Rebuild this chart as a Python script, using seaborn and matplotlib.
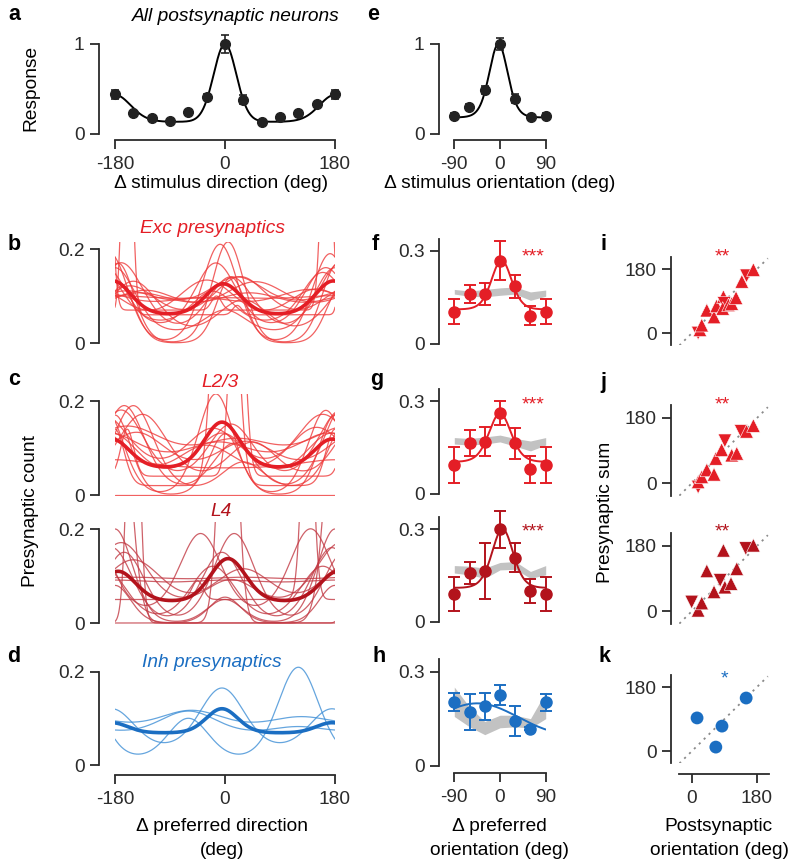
import numpy as np
import pandas as pd
import matplotlib
matplotlib.use("Agg")
import matplotlib.pyplot as plt
import seaborn as sns

# ---------------- values ----------------
# a: all postsynaptic neurons vs stimulus direction
dir_deg = [-180, -150, -120, -90, -60, -30, 0, 30, 60, 90, 120, 150, 180]
resp_dir = [0.44, 0.23, 0.18, 0.15, 0.24, 0.41, 1.00, 0.38, 0.13, 0.19, 0.23, 0.33, 0.44]
resp_dir_err = [0.05, 0.03, 0.02, 0.02, 0.03, 0.03, 0.10, 0.05, 0.02, 0.02, 0.02, 0.03, 0.05]
resp_dir_fit = [0.135, 0.865, 0.30, 9.5, 5.0, 0]      # base, a0, a180, k0, k180, mu

# e: all postsynaptic neurons vs stimulus orientation
ori_deg = [-90, -60, -30, 0, 30, 60, 90]
resp_ori = [0.20, 0.30, 0.49, 1.00, 0.39, 0.185, 0.20]
resp_ori_err = [0.03, 0.03, 0.04, 0.065, 0.05, 0.03, 0.03]
resp_ori_fit = [0.18, 0.82, 2.6, -3]                   # base, amp, kappa, mu

# b-d: fitted tuning of single postsynaptic cells, [base, a0, a180, kappa, mu]
exc_cells = [[0.0, 0.215, 0.17, 5, 5], [0.0, 0.21, 0.19, 4, -8], [0.03, 0.14, 0.13, 3, -15],
             [0.02, 0.12, 0.15, 2.5, 10], [0.05, 0.09, 0.07, 2, 25], [0.04, 0.07, 0.11, 3, -20],
             [0.09, 0.005, 0.01, 1, 0], [0.05, 0.05, 0.05, 1, 40], [0.06, 0.02, 0.6, 60, 20],
             [0.07, 0.03, 0.5, 50, -14], [0.01, 0.08, 0.12, 2, 30], [0.03, 0.10, 0.08, 1.5, -30],
             [0.02, 0.05, 0.14, 3, 0], [0.045, 0.08, 0.06, 1.2, 50], [0.0, 0.14, 0.12, 6, 10],
             [0.06, 0.03, 0.05, 1, -40], [0.08, 0.06, 0.03, 2, 20]]
exc_mean = [0.06, 0.066, 0.072, 4, -3]

l23_cells = [[0.0, 0.0, 0.0, 1, 0], [0.02, 1.0, 0.12, 15, 0], [0.04, 0.6, 0.10, 30, 20],
             [0.0, 0.215, 0.18, 4, -15], [0.03, 0.12, 0.15, 2.5, 10], [0.05, 0.09, 0.12, 2, -20],
             [0.01, 0.10, 0.18, 3, 15], [0.055, 0.0, 0.02, 1, 0], [0.02, 0.08, 0.12, 1.5, -30],
             [0.04, 0.07, 0.09, 1.5, 35], [0.0, 0.13, 0.17, 5, 0], [0.06, 0.05, 0.08, 1, 20],
             [0.03, 0.10, 0.10, 2, -5], [0.07, 0.04, 0.06, 1.5, -10], [0.01, 0.06, 0.18, 3, 30],
             [0.02, 0.09, 0.15, 2, 45]]
l23_mean = [0.057, 0.098, 0.062, 4, -5]

l4_cells = [[0.0, 0.0, 0.6, 10, 5], [0.0, 0.8, 0.0, 20, 5], [0.0, 0.19, 0.15, 3, 15],
            [0.02, 0.17, 0.18, 3, -40], [0.08, 0.01, 0.01, 1, 0], [0.07, 0.02, 0.02, 0.5, 30],
            [0.0, 0.05, 0.20, 4, 0], [0.03, 0.06, 0.14, 2, 10], [0.0, 0.12, 0.12, 2.5, -20],
            [0.02, 0.09, 0.11, 1.5, 30], [0.0, 0.055, 0.08, 5, 0], [0.0, 0.0, 0.7, 40, 30],
            [0.05, 0.5, 0.04, 40, 135], [0.0, 0.15, 0.16, 3, -5]]
l4_mean = [0.045, 0.092, 0.065, 4, 5]

inh_cells = [[0.01, 0.09, 0.20, 3, -60], [0.03, 0.135, 0.09, 2.5, -5],
             [0.06, 0.055, 0.02, 1.5, -60], [0.07, 0.045, 0.03, 1.2, -55]]
inh_mean = [0.069, 0.052, 0.022, 5, -5]

# f-h: presynaptic count vs preferred orientation difference
exc_y = [0.104, 0.161, 0.161, 0.268, 0.186, 0.091, 0.104]
exc_err = [0.04, 0.03, 0.035, 0.063, 0.037, 0.03, 0.04]
exc_shuf_lo = [0.161, 0.154, 0.152, 0.157, 0.161, 0.141, 0.154]
exc_shuf_hi = [0.176, 0.171, 0.176, 0.181, 0.184, 0.168, 0.174]
exc_fit = [0.11, 0.16, 2.2, 3]

l23_y = [0.092, 0.165, 0.169, 0.261, 0.163, 0.080, 0.092]
l23_err = [0.058, 0.042, 0.048, 0.039, 0.051, 0.043, 0.058]
l23_shuf_lo = [0.161, 0.158, 0.161, 0.168, 0.154, 0.139, 0.158]
l23_shuf_hi = [0.182, 0.179, 0.184, 0.190, 0.179, 0.171, 0.182]
l23_fit = [0.10, 0.16, 1.8, 0]

l4_y = [0.090, 0.158, 0.165, 0.299, 0.208, 0.100, 0.090]
l4_err = [0.056, 0.036, 0.09, 0.059, 0.047, 0.04, 0.056]
l4_shuf_lo = [0.158, 0.152, 0.141, 0.168, 0.170, 0.141, 0.152]
l4_shuf_hi = [0.182, 0.180, 0.174, 0.192, 0.195, 0.163, 0.182]
l4_fit = [0.107, 0.193, 2.0, 5]

inh_y = [0.204, 0.172, 0.191, 0.226, 0.143, 0.119, 0.204]
inh_err = [0.029, 0.057, 0.043, 0.032, 0.047, 0.005, 0.027]
inh_shuf_lo = [0.158, 0.125, 0.100, 0.122, 0.125, 0.121, 0.151]
inh_shuf_hi = [0.252, 0.188, 0.142, 0.162, 0.162, 0.151, 0.236]
inh_fit = [0.09, 0.11, -45, 80]                        # base, amp, mu, sd

# i-k: presynaptic sum vs postsynaptic orientation
i_post = [17, 22, 27, 41, 61, 68, 87, 89, 85, 101, 110, 122, 138, 151, 170]
i_pre = [0, 9, 22, 64, 45, 76, 102, 83, 69, 79, 83, 99, 145, 161, 178]
i_mark = ['down', 'up', 'up', 'up', 'up', 'up', 'up', 'down', 'up', 'up', 'up', 'up', 'up', 'down', 'up']

j_post = [17, 17, 27, 41, 61, 66, 82, 91, 110, 124, 136, 151, 170]
j_pre = [-11, 3, 17, 36, 24, 68, 92, 117, 77, 82, 143, 143, 159]
j_mark = ['down', 'up', 'up', 'up', 'up', 'up', 'up', 'down', 'up', 'up', 'down', 'up', 'up']

j4_post = [-1, 17, 27, 41, 61, 78, 87, 91, 108, 124, 149, 170]
j4_pre = [25, 2, 22, 111, 53, 85, 168, 66, 76, 117, 173, 182]
j4_mark = ['down', 'up', 'up', 'up', 'up', 'down', 'up', 'up', 'up', 'up', 'down', 'up']

k_post = [14, 83, 66, 150]
k_pre = [93, 70, 11, 149]

# ---------------- style ----------------
RED = '#e41e26'
RED_THIN = '#ee3a3a'
DRED = '#b3131c'
DRED_THIN = '#c23a44'
BLUE = '#1b6ec2'
BLUE_THIN = '#3f8fd6'
INK = '#2b2b2b'
GREY = '#c2c2c2'
FS = 13.8

sns.set_theme(style='ticks', rc={
    'axes.linewidth': 1.3, 'axes.edgecolor': INK,
    'xtick.major.size': 6.5, 'ytick.major.size': 6.5,
    'xtick.major.width': 1.3, 'ytick.major.width': 1.3,
    'xtick.color': INK, 'ytick.color': INK,
    'xtick.labelsize': FS, 'ytick.labelsize': FS,
    'xtick.major.pad': 5, 'ytick.major.pad': 4,
    'axes.facecolor': 'none',
})
plt.rcParams['font.family'] = ['Liberation Sans', 'DejaVu Sans']
plt.rcParams['text.color'] = 'black'

W, H = 800, 866
fig = plt.figure(figsize=(W / 100, H / 100), dpi=100)


def vm_dir(t, base, a1, a2, k1, k2, mu):
    r = np.deg2rad(t - mu)
    return base + a1 * np.exp(k1 * (np.cos(r) - 1)) + a2 * np.exp(k2 * (np.cos(r - np.pi) - 1))


def vm_ori(t, base, amp, k, mu):
    return base + amp * np.exp(k * (np.cos(np.deg2rad(2 * (t - mu))) - 1))


def gauss(t, base, amp, mu, sd):
    return base + amp * np.exp(-(t - mu) ** 2 / (2 * sd ** 2))


def px_axes(xref, xpx, yref, ypx, xlim, ylim):
    # place an axes so that data values xref/yref land on pixels xpx/ypx
    sx = (xpx[1] - xpx[0]) / (xref[1] - xref[0])
    sy = (ypx[1] - ypx[0]) / (yref[1] - yref[0])
    left = xpx[0] + (xlim[0] - xref[0]) * sx
    right = xpx[0] + (xlim[1] - xref[0]) * sx
    bottom = ypx[0] + (ylim[0] - yref[0]) * sy
    top = ypx[0] + (ylim[1] - yref[0]) * sy
    ax = fig.add_axes([left / W, 1 - bottom / H, (right - left) / W, (bottom - top) / H])
    ax.set_xlim(xlim)
    ax.set_ylim(ylim)
    return ax


def dress(ax, lout, yticks, ylabels, ybounds=None, bout=None, xticks=None, xlabels=None, xbounds=None):
    ax.spines[['top', 'right']].set_visible(False)
    ax.spines['left'].set_position(('outward', lout * 0.72))
    ax.set_yticks(yticks, ylabels)
    if ybounds:
        ax.spines['left'].set_bounds(*ybounds)
    if bout is None:
        ax.spines['bottom'].set_visible(False)
        ax.set_xticks([])
    else:
        ax.spines['bottom'].set_position(('outward', bout * 0.72))
        ax.set_xticks(xticks, xlabels)
        if xbounds:
            ax.spines['bottom'].set_bounds(*xbounds)
    ax.set_xlabel('')
    ax.set_ylabel('')


def ftext(x, y, s, **kw):
    kw.setdefault('ha', 'center')
    kw.setdefault('va', 'baseline')
    kw.setdefault('fontsize', FS)
    fig.text(x / W, 1 - y / H, s, **kw)


theta = np.linspace(-180, 180, 721)
theta_o = np.linspace(-90, 90, 361)


def cells_frame(params):
    parts = []
    for i, (b, a1, a2, k, mu) in enumerate(params):
        parts.append(pd.DataFrame({'theta': theta, 'value': vm_dir(theta, b, a1, a2, k, k, mu), 'cell': i}))
    return pd.concat(parts, ignore_index=True)


def tuning_panel(ax, cells, mean, thin, thick):
    sns.lineplot(data=cells_frame(cells), x='theta', y='value', units='cell', estimator=None,
                 color=thin, lw=0.9, alpha=0.8, sort=False, legend=False, ax=ax)
    sns.lineplot(x=theta, y=vm_dir(theta, mean[0], mean[1], mean[2], mean[3], mean[3], mean[4]),
                 color=thick, lw=2.6, ax=ax)


def ori_panel(ax, y, err, lo, hi, fit, col, model=vm_ori):
    ax.fill_between(ori_deg, lo, hi, color=GREY, lw=0, zorder=1)
    sns.lineplot(x=theta_o, y=model(theta_o, *fit), color=col, lw=1.4, ax=ax, zorder=2)
    ax.errorbar(ori_deg, y, yerr=err, fmt='o', color=col, ms=8, capsize=4, elinewidth=1.4,
                capthick=1.4, clip_on=False, zorder=3)


# ---- a ----
ax = px_axes((-180, 180), (115, 335), (0, 1), (134, 44), (-180, 180), (0, 1.12))
sns.lineplot(x=theta, y=vm_dir(theta, *resp_dir_fit), color='black', lw=1.4, ax=ax)
ax.errorbar(dir_deg, resp_dir, yerr=resp_dir_err, fmt='o', color='#222222', ms=7, capsize=3,
            elinewidth=1.2, capthick=1.2, clip_on=False, zorder=3)
dress(ax, 16, [0, 1], ['0', '1'], (0, 1), bout=6, xticks=[-180, 0, 180],
      xlabels=['-180', '0', '180'], xbounds=(-180, 180))

# ---- e ----
ax = px_axes((-90, 90), (454, 546), (0, 1), (134, 44), (-90, 90), (0, 1.12))
sns.lineplot(x=theta_o, y=vm_ori(theta_o, *resp_ori_fit), color='black', lw=1.4, ax=ax)
ax.errorbar(ori_deg, resp_ori, yerr=resp_ori_err, fmt='o', color='#222222', ms=7, capsize=3,
            elinewidth=1.2, capthick=1.2, clip_on=False, zorder=3)
dress(ax, 15, [0, 1], ['0', '1'], (0, 1), bout=6, xticks=[-90, 0, 90],
      xlabels=['-90', '0', '90'], xbounds=(-90, 90))

# ---- b, c, d ----
ylim_t = (-0.003, 0.215)
for ypx, cells, mean, thin, thick in [((343, 249), exc_cells, exc_mean, RED_THIN, RED),
                                      ((495, 401), l23_cells, l23_mean, RED_THIN, RED),
                                      ((623, 529), l4_cells, l4_mean, DRED_THIN, DRED)]:
    ax = px_axes((-180, 180), (115, 335), (0, 0.2), ypx, (-180, 180), ylim_t)
    tuning_panel(ax, cells, mean, thin, thick)
    dress(ax, 16, [0, 0.2], ['0', '0.2'], (0, 0.2))

ax = px_axes((-180, 180), (115, 335), (0, 0.2), (765, 672), (-180, 180), ylim_t)
tuning_panel(ax, inh_cells, inh_mean, BLUE_THIN, BLUE)
dress(ax, 16, [0, 0.2], ['0', '0.2'], (0, 0.2), bout=8.6, xticks=[-180, 0, 180],
      xlabels=['-180', '0', '180'], xbounds=(-180, 180))

# ---- f, g, h ----
for ypx, y, err, lo, hi, fit, col in [((344, 251), exc_y, exc_err, exc_shuf_lo, exc_shuf_hi, exc_fit, RED),
                                      ((494, 401), l23_y, l23_err, l23_shuf_lo, l23_shuf_hi, l23_fit, RED),
                                      ((622, 529), l4_y, l4_err, l4_shuf_lo, l4_shuf_hi, l4_fit, DRED)]:
    ax = px_axes((-90, 90), (454.3, 545.7), (0, 0.3), ypx, (-90, 90), (0, 0.34))
    ori_panel(ax, y, err, lo, hi, fit, col)
    dress(ax, 15, [0, 0.3], ['0', '0.3'])

ax = px_axes((-90, 90), (454.3, 545.7), (0, 0.3), (766, 672), (-90, 90), (0, 0.34))
ori_panel(ax, inh_y, inh_err, inh_shuf_lo, inh_shuf_hi, inh_fit, BLUE, model=gauss)
dress(ax, 15, [0, 0.3], ['0', '0.3'], bout=7, xticks=[-90, 0, 90], xlabels=['-90', '0', '90'],
      xbounds=(-90, 90))

# ---- i, j, k ----
diag = [-35, 210]
lim_o = (-35, 212)
for ypx, post, pre, mark, col in [((333, 269), i_post, i_pre, i_mark, RED),
                                  ((483, 418), j_post, j_pre, j_mark, RED),
                                  ((611, 546), j4_post, j4_pre, j4_mark, DRED)]:
    ax = px_axes((0, 180), (692, 757), (0, 180), ypx, lim_o, (-35, 215))
    ax.plot(diag, diag, color='#8a8a8a', lw=1.3, ls=(0, (1.2, 2.6)), zorder=1)
    df = pd.DataFrame({'post': post, 'pre': pre, 'mark': mark})
    sns.scatterplot(data=df, x='post', y='pre', style='mark', markers={'up': '^', 'down': 'v'},
                    color=col, s=95, edgecolor='white', linewidth=0.4, legend=False,
                    clip_on=False, zorder=3, ax=ax)
    dress(ax, 8.4, [0, 180], ['0', '180'])

ax = px_axes((0, 180), (692, 757), (0, 180), (751, 687), lim_o, (-35, 215))
ax.plot(diag, diag, color='#8a8a8a', lw=1.3, ls=(0, (1.2, 2.6)), zorder=1)
sns.scatterplot(x=k_post, y=k_pre, color=BLUE, s=85, edgecolor='none', legend=False,
                clip_on=False, zorder=3, ax=ax)
dress(ax, 8.4, [0, 180], ['0', '180'], bout=10.5, xticks=[0, 180], xlabels=['0', '180'])

# ---- text ----
for x, y, s in [(14, 20, 'a'), (373, 20, 'e'), (14, 250, 'b'), (375, 250, 'f'), (603, 250, 'i'),
                (14, 385, 'c'), (377, 385, 'g'), (603, 388, 'j'), (14, 662, 'd'), (379, 662, 'h'),
                (605, 662, 'k')]:
    ftext(x, y, s, fontsize=15.5, fontweight='bold')

ftext(236, 21, 'All postsynaptic neurons', style='italic')
ftext(212, 233, 'Exc presynaptics', style='italic', color=RED)
ftext(220, 387, 'L2/3', style='italic', color=RED)
ftext(221, 516, 'L4', style='italic', color=DRED)
ftext(212, 667, 'Inh presynaptics', style='italic', color=BLUE)

ftext(221, 188, 'Δ stimulus direction (deg)')
ftext(500, 188, 'Δ stimulus orientation (deg)')
ftext(222, 831, 'Δ preferred direction')
ftext(222, 855, '(deg)')
ftext(499, 831, 'Δ preferred')
ftext(499, 855, 'orientation (deg)')
ftext(718, 831, 'Postsynaptic')
ftext(720, 855, 'orientation (deg)')

ftext(31, 88, 'Response', rotation=90, va='center')
ftext(31, 511, 'Presynaptic count', rotation=90, va='center')
ftext(606, 512, 'Presynaptic sum', rotation=90, va='center')

for x, y, s, col in [(533, 261, '***', RED), (533, 409, '***', RED), (533, 536, '***', DRED),
                     (722, 261, '**', RED), (722, 409, '**', RED), (722, 536, '**', DRED),
                     (724, 683, '*', BLUE)]:
    ftext(x, y, s, fontsize=14, color=col)

fig.savefig('out.png', dpi=100)
